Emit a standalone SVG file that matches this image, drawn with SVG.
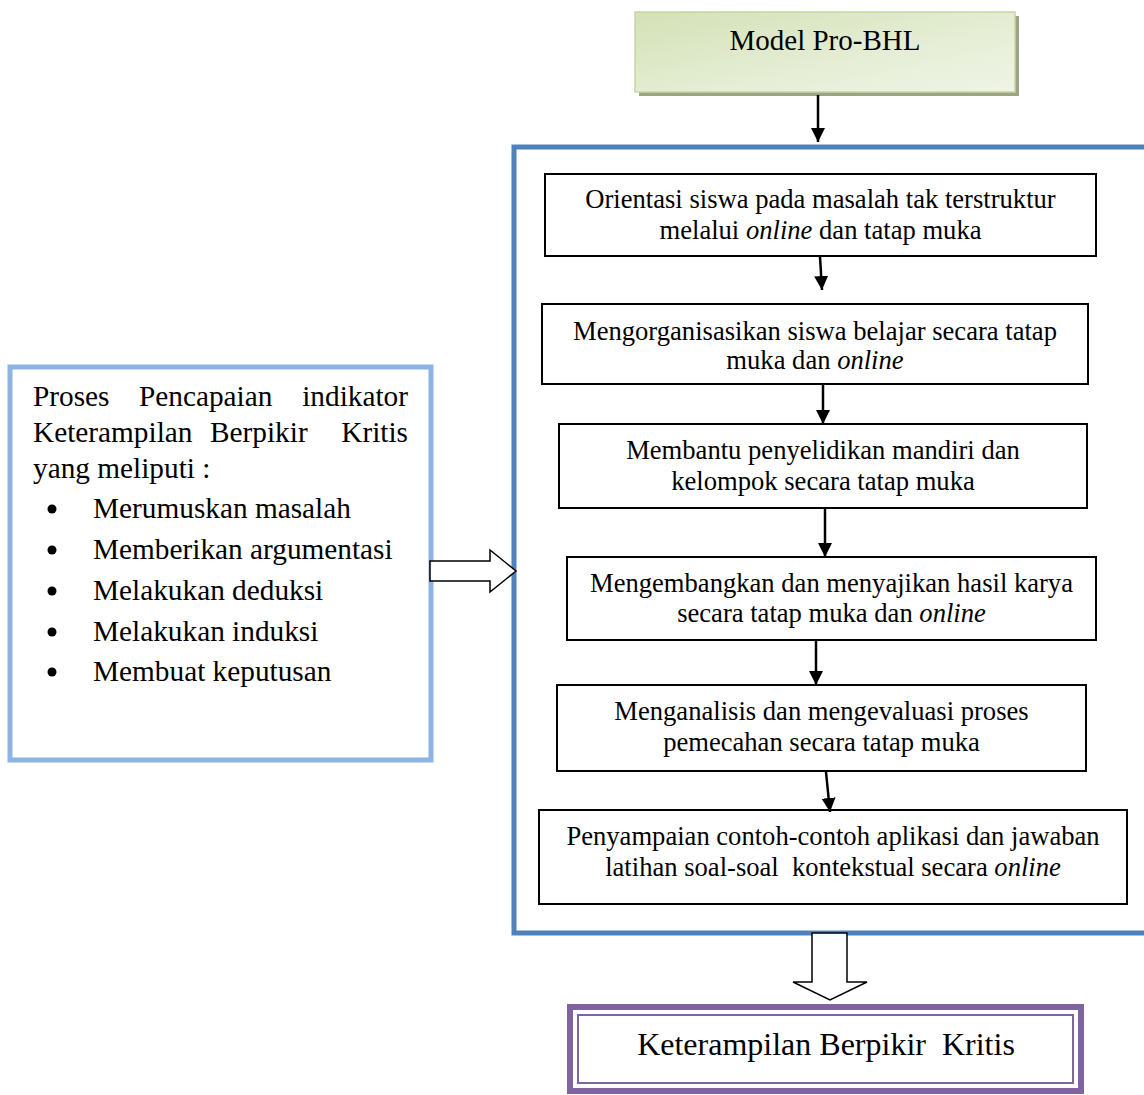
<svg xmlns="http://www.w3.org/2000/svg" width="1144" height="1095" viewBox="0 0 1144 1095">
<defs>
<linearGradient id="g" x1="0" y1="0" x2="1" y2="1">
<stop offset="0" stop-color="#d3e1b6"/>
<stop offset="0.6" stop-color="#e6eed6"/>
<stop offset="1" stop-color="#eff4e6"/>
</linearGradient>
<marker id="ah" viewBox="0 0 14 15" refX="14" refY="7.5" markerWidth="14" markerHeight="15" markerUnits="userSpaceOnUse" orient="auto">
<path d="M0,0.5 L14,7.5 L0,14.5 z" fill="#000"/>
</marker>
<style>
text{font-family:"Liberation Serif","Times New Roman",serif;fill:#000;white-space:pre}
.bt{font-size:26.6px;text-anchor:middle}
.box{fill:#fff;stroke:#000;stroke-width:2}
.lt{font-size:29.3px}
.ln{stroke:#000;stroke-width:2.5;fill:none;marker-end:url(#ah)}
</style>
</defs>
<rect width="1144" height="1095" fill="#fff"/>

<g id="model">
<rect x="639" y="16" width="380" height="80" fill="#9ea385"/>
<rect x="635" y="12" width="380" height="80" fill="url(#g)" stroke="#c5d7a2" stroke-width="1.5"/>
<text x="825" y="50" style="font-size:29px;text-anchor:middle">Model Pro-BHL</text>
</g>

<g id="frame">
<rect x="514" y="147" width="700" height="786" fill="none" stroke="#4f81bd" stroke-width="5"/>
</g>

<g id="left">
<rect x="10" y="367" width="421" height="393" fill="#fff" stroke="#8db3e2" stroke-width="5"/>
<text class="lt" y="406"><tspan x="33">Proses</tspan><tspan x="139">Pencapaian</tspan><tspan x="408" text-anchor="end">indikator</tspan></text>
<text class="lt" y="442"><tspan x="33">Keterampilan</tspan><tspan x="210">Berpikir</tspan><tspan x="408" text-anchor="end">Kritis</tspan></text>
<text class="lt" x="33" y="478">yang meliputi :</text>
<g fill="#000">
<circle cx="52" cy="509" r="4.5"/>
<circle cx="52" cy="550" r="4.5"/>
<circle cx="52" cy="591" r="4.5"/>
<circle cx="52" cy="632" r="4.5"/>
<circle cx="52" cy="672" r="4.5"/>
</g>
<text class="lt" x="93" y="518">Merumuskan masalah</text>
<text class="lt" x="93" y="559">Memberikan argumentasi</text>
<text class="lt" x="93" y="600">Melakukan deduksi</text>
<text class="lt" x="93" y="641">Melakukan induksi</text>
<text class="lt" x="93" y="681">Membuat keputusan</text>
</g>

<g id="s1">
<rect class="box" x="545" y="174" width="551" height="82"/>
<text class="bt" x="820.5" y="208">Orientasi siswa pada masalah tak terstruktur</text>
<text class="bt" x="820.5" y="239">melalui <tspan font-style="italic">online</tspan> dan tatap muka</text>
</g>
<g id="s2">
<rect class="box" x="542" y="304" width="546" height="80"/>
<text class="bt" x="815" y="340">Mengorganisasikan siswa belajar secara tatap</text>
<text class="bt" x="815" y="369">muka dan <tspan font-style="italic">online</tspan></text>
</g>
<g id="s3">
<rect class="box" x="559" y="424" width="528" height="84"/>
<text class="bt" x="823" y="459">Membantu penyelidikan mandiri dan</text>
<text class="bt" x="823" y="490">kelompok secara tatap muka</text>
</g>
<g id="s4">
<rect class="box" x="567" y="557" width="529" height="83"/>
<text class="bt" x="831.5" y="592">Mengembangkan dan menyajikan hasil karya</text>
<text class="bt" x="831.5" y="622">secara tatap muka dan <tspan font-style="italic">online</tspan></text>
</g>
<g id="s5">
<rect class="box" x="557" y="685" width="529" height="86"/>
<text class="bt" x="821.5" y="720">Menganalisis dan mengevaluasi proses</text>
<text class="bt" x="821.5" y="751">pemecahan secara tatap muka</text>
</g>
<g id="s6">
<rect class="box" x="539" y="810" width="588" height="94"/>
<text class="bt" x="833" y="845">Penyampaian contoh-contoh aplikasi dan jawaban</text>
<text class="bt" x="833" y="876">latihan soal-soal  kontekstual secara <tspan font-style="italic">online</tspan></text>
</g>

<g id="result">
<rect x="570" y="1007" width="511" height="84" fill="#fff" stroke="#8064a2" stroke-width="6"/>
<rect x="578" y="1015" width="495" height="68" fill="none" stroke="#8064a2" stroke-width="2"/>
<text x="826" y="1055" style="font-size:32px;text-anchor:middle">Keterampilan Berpikir  Kritis</text>
</g>

<g id="connectors">
<line class="ln" x1="818" y1="95" x2="818" y2="142"/>
<line class="ln" x1="820" y1="257" x2="822" y2="290"/>
<line class="ln" x1="823" y1="385" x2="823" y2="424"/>
<line class="ln" x1="825" y1="509" x2="825" y2="557"/>
<line class="ln" x1="816" y1="641" x2="816" y2="685"/>
<line class="ln" x1="826" y1="772" x2="830" y2="812"/>
<path d="M430,561 L490,561 L490,550 L516,571 L490,592 L490,581 L430,581 Z" fill="#fff" stroke="#000" stroke-width="1.5"/>
<path d="M812,933 L847,933 L847,982 L867,982 L830,1000 L793,982 L812,982 Z" fill="#fff" stroke="#000" stroke-width="1.5"/>
</g>
</svg>
